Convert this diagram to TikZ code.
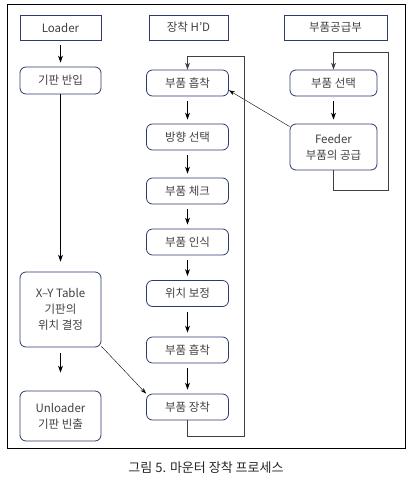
\documentclass[tikz,border=0pt]{standalone}
\usepackage{fontspec}
\setmainfont{Noto Sans CJK KR}
\usetikzlibrary{positioning, arrows.meta}
\definecolor{boxblue}{HTML}{2E3A6E}
\definecolor{ink}{HTML}{404040}

\begin{document}
\begin{tikzpicture}[x=1pt,y=-1pt,>={Stealth[length=7pt,width=5pt]},node distance=54pt,on grid,font=\fontsize{11.5}{16}\selectfont]
\tikzstyle{head}=[rectangle,draw=boxblue,line width=0.8pt,minimum width=81pt,minimum height=25pt,inner sep=0pt,text=ink]
\tikzstyle{proc}=[rectangle,rounded corners=6pt,draw=boxblue,line width=0.8pt,minimum width=82pt,minimum height=26pt,inner sep=0pt,align=center,text=ink]
\tikzstyle{flow}=[->,line width=0.9pt,shorten <=5pt,shorten >=4pt]
\tikzstyle{back}=[->,draw=ink,line width=1pt]

  \useasboundingbox (0,0) rectangle (408,480);
  \draw[line width=1pt] (7,4) rectangle (405,448);

  %--- headers ---
  \node[head] (loader) at (60.5,27.5) {Loader};
  \node[head, minimum width=79pt] (hd) at (188.5,27.5) {장착 H'D};
  \node[head, minimum width=103pt] (supply) at (335.5,27.5) {부품공급부};

  %--- board side ---
  \node[proc, minimum width=81pt, minimum height=27pt] (bring) at (60.5,80.5) {기판 반입};
  \node[proc, minimum width=81pt, minimum height=75pt] (table) at (60.5,309.5) {X–Y Table\\기판의\\위치 결정};
  \node[proc, minimum width=81pt, minimum height=50pt] (unload) at (60.5,416) {Unloader\\기판 빈출};

  %--- head side ---
  \node[proc] (pick1) at (187.5,83) {부품 흡착};
  \node[proc] (dir) [below=54pt of pick1] {방향 선택};
  \node[proc] (check) [below=54pt of dir] {부품 체크};
  \node[proc] (recog) [below=51pt of check] {부품 인식};
  \node[proc] (adjust) [below=51.5pt of recog] {위치 보정};
  \node[proc] (pick2) [below=56.5pt of adjust] {부품 흡착};
  \node[proc] (mount) [below=57pt of pick2] {부품 장착};

  %--- supply side ---
  \node[proc, minimum width=87pt] (select) at (333.5,83) {부품 선택};
  \node[proc, minimum width=87pt, minimum height=46pt] (feeder) [below=64pt of select] {Feeder\\부품의 공급};

  \coordinate (hdbot) at (244,436);
  \coordinate (hdtop) at (244,56);
  \coordinate (supbot) at (388,190);
  \coordinate (suptop) at (388,52);

  %--- transitions ---
  \path[flow]
    (loader) edge (bring)
    (bring) edge[shorten <=0pt, shorten >=10pt] (table)
    (table) edge[shorten <=6pt, shorten >=18pt] (unload)

    (pick1) edge (dir)
    (dir) edge (check)
    (check) edge (recog)
    (recog) edge (adjust)
    (adjust) edge (pick2)
    (pick2) edge (mount)

    (select) edge (feeder);

  \draw[-{Stealth[length=6pt,width=4pt]},line width=0.4pt] (feeder.155) -- (pick1.-10);
  \draw[-{Stealth[length=6pt,width=4pt]},line width=0.4pt] (table.-42) -- (mount.north west);

  \draw[back] (mount.south) |- (hdbot) -- (hdtop) -| (pick1.north);
  \draw[back] (feeder.south) |- (supbot) -- (suptop) -| (select.north);

  \node[font=\fontsize{13}{15}\selectfont, text=black!85] (caption) at (206,468) {그림 5. 마운터 장착 프로세스};
\end{tikzpicture}
\end{document}
